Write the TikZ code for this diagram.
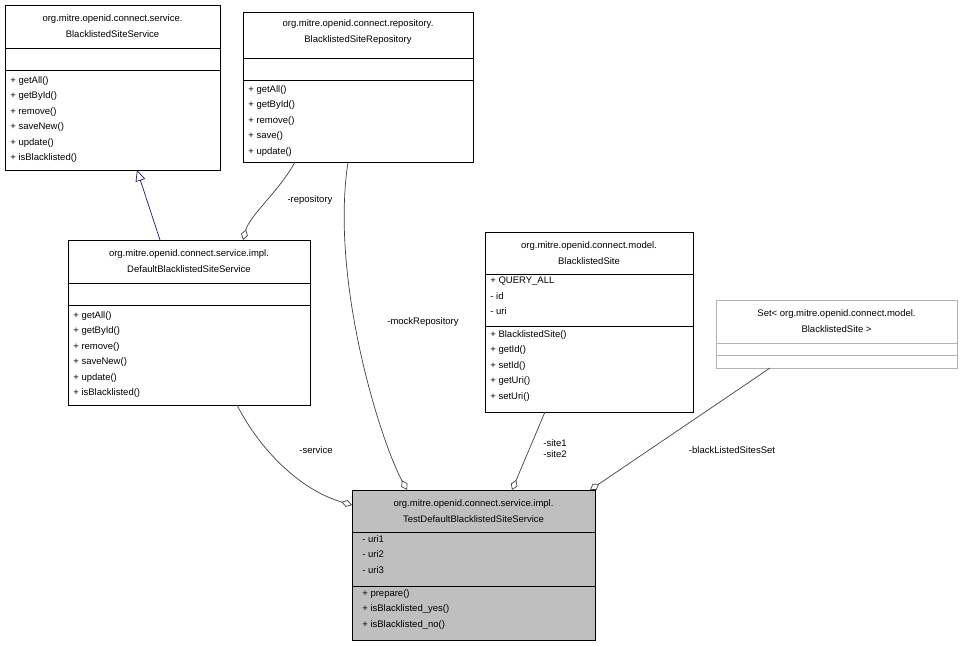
\documentclass[tikz,border=0pt]{standalone}
\usepackage{fontspec}
\setmainfont{Liberation Sans}
\usetikzlibrary{arrows.meta}
\begin{document}
\begin{tikzpicture}[x=1pt,y=-1pt,
  box/.style={draw, inner sep=0, anchor=north west},
  ttl/.style={align=center, inner sep=0, font=\fontsize{9.5}{15.5}\selectfont},
  lst/.style={align=left, inner sep=0, anchor=north west, font=\fontsize{9.5}{15.5}\selectfont},
  lbl/.style={inner sep=1pt, font=\fontsize{9.5}{11}\selectfont},
  agg/.style={draw=black!75, -{Diamond[open,length=11pt,width=7pt]}},
  line width=0.7pt]
\useasboundingbox (0,0) rectangle (963,647);
% box 1
\node[box, minimum width=215, minimum height=165] (b1) at (5,5) {};
\draw (5,48) -- (220,48) (5,70) -- (220,70);
\node[ttl] (t1) at (112.5,26) {org.mitre.openid.connect.service.\\BlacklistedSiteService};
\node[lst] (l1) at (10,76) {+ getAll()\\+ getById()\\+ remove()\\+ saveNew()\\+ update()\\+ isBlacklisted()};
% box 2
\node[box, minimum width=230, minimum height=150] (b2) at (243,12) {};
\draw (243,58) -- (473,58) (243,80) -- (473,80);
\node[ttl] (t2) at (358,32) {org.mitre.openid.connect.repository.\\BlacklistedSiteRepository};
\node[lst] (l2) at (248,85) {+ getAll()\\+ getById()\\+ remove()\\+ save()\\+ update()};
% box 3
\node[box, minimum width=242, minimum height=165] (b3) at (68,240) {};
\draw (68,283) -- (310,283) (68,305) -- (310,305);
\node[ttl] (t3) at (189,261) {org.mitre.openid.connect.service.impl.\\DefaultBlacklistedSiteService};
\node[lst] (l3) at (73,311) {+ getAll()\\+ getById()\\+ remove()\\+ saveNew()\\+ update()\\+ isBlacklisted()};
% box 4
\node[box, minimum width=208, minimum height=180] (b4) at (485,232) {};
\draw (485,274) -- (693,274) (485,326) -- (693,326);
\node[ttl] (t4) at (589,253) {org.mitre.openid.connect.model.\\BlacklistedSite};
\node[lst] (l4) at (490,277) {+ QUERY\_ALL\\- id\\- uri};
\node[lst] (m4) at (490,330) {+ BlacklistedSite()\\+ getId()\\+ setId()\\+ getUri()\\+ setUri()};
% box 5
\node[box, draw=black!30, minimum width=241, minimum height=68] (b5) at (716,300) {};
\draw[black!30] (716,343) -- (957,343) (716,355) -- (957,355);
\node[ttl] (t5) at (836.5,321) {Set< org.mitre.openid.connect.model.\\BlacklistedSite >};
% box 6
\node[box, fill=black!25, minimum width=243, minimum height=150] (b6) at (352,490) {};
\draw (352,532) -- (595,532) (352,586) -- (595,586);
\node[ttl] (t6) at (473.5,511) {org.mitre.openid.connect.service.impl.\\TestDefaultBlacklistedSiteService};
\node[lst] (l6) at (362,535) {- uri1\\- uri2\\- uri3};
\node[lst] (m6) at (362,589) {+ prepare()\\+ isBlacklisted\_yes()\\+ isBlacklisted\_no()};
% edges
\coordinate (i1) at (160,240); \coordinate (i2) at (137,170);
\draw[draw={rgb,255:red,25;green,25;blue,112}, -{Triangle[open,length=11pt,width=10pt]}] (i1) -- (i2);
\coordinate (r1) at (295,162); \coordinate (r2) at (243,240);
\draw[agg] (r1) .. controls (280,190) and (250,215) .. (r2);
\node[lbl] (rl) at (310,200) {-repository};
\coordinate (m1) at (348,162); \coordinate (m2) at (407,490);
\draw[agg] (m1) .. controls (330,280) and (380,440) .. (m2);
\node[lbl] (ml) at (423,322) {-mockRepository};
\coordinate (s1) at (237,405); \coordinate (s2) at (352,505);
\draw[agg] (s1) .. controls (260,450) and (300,490) .. (s2);
\node[lbl] (sl) at (316,450) {-service};
\coordinate (q1) at (545,412); \coordinate (q2) at (512,490);
\draw[agg] (q1) -- (q2);
\node[lbl, align=left] (ql) at (555,449) {-site1\\-site2};
\coordinate (u1) at (770,368); \coordinate (u2) at (590,490);
\draw[agg] (u1) -- (u2);
\node[lbl] (ul) at (732,450) {-blackListedSitesSet};
\end{tikzpicture}
\end{document}
